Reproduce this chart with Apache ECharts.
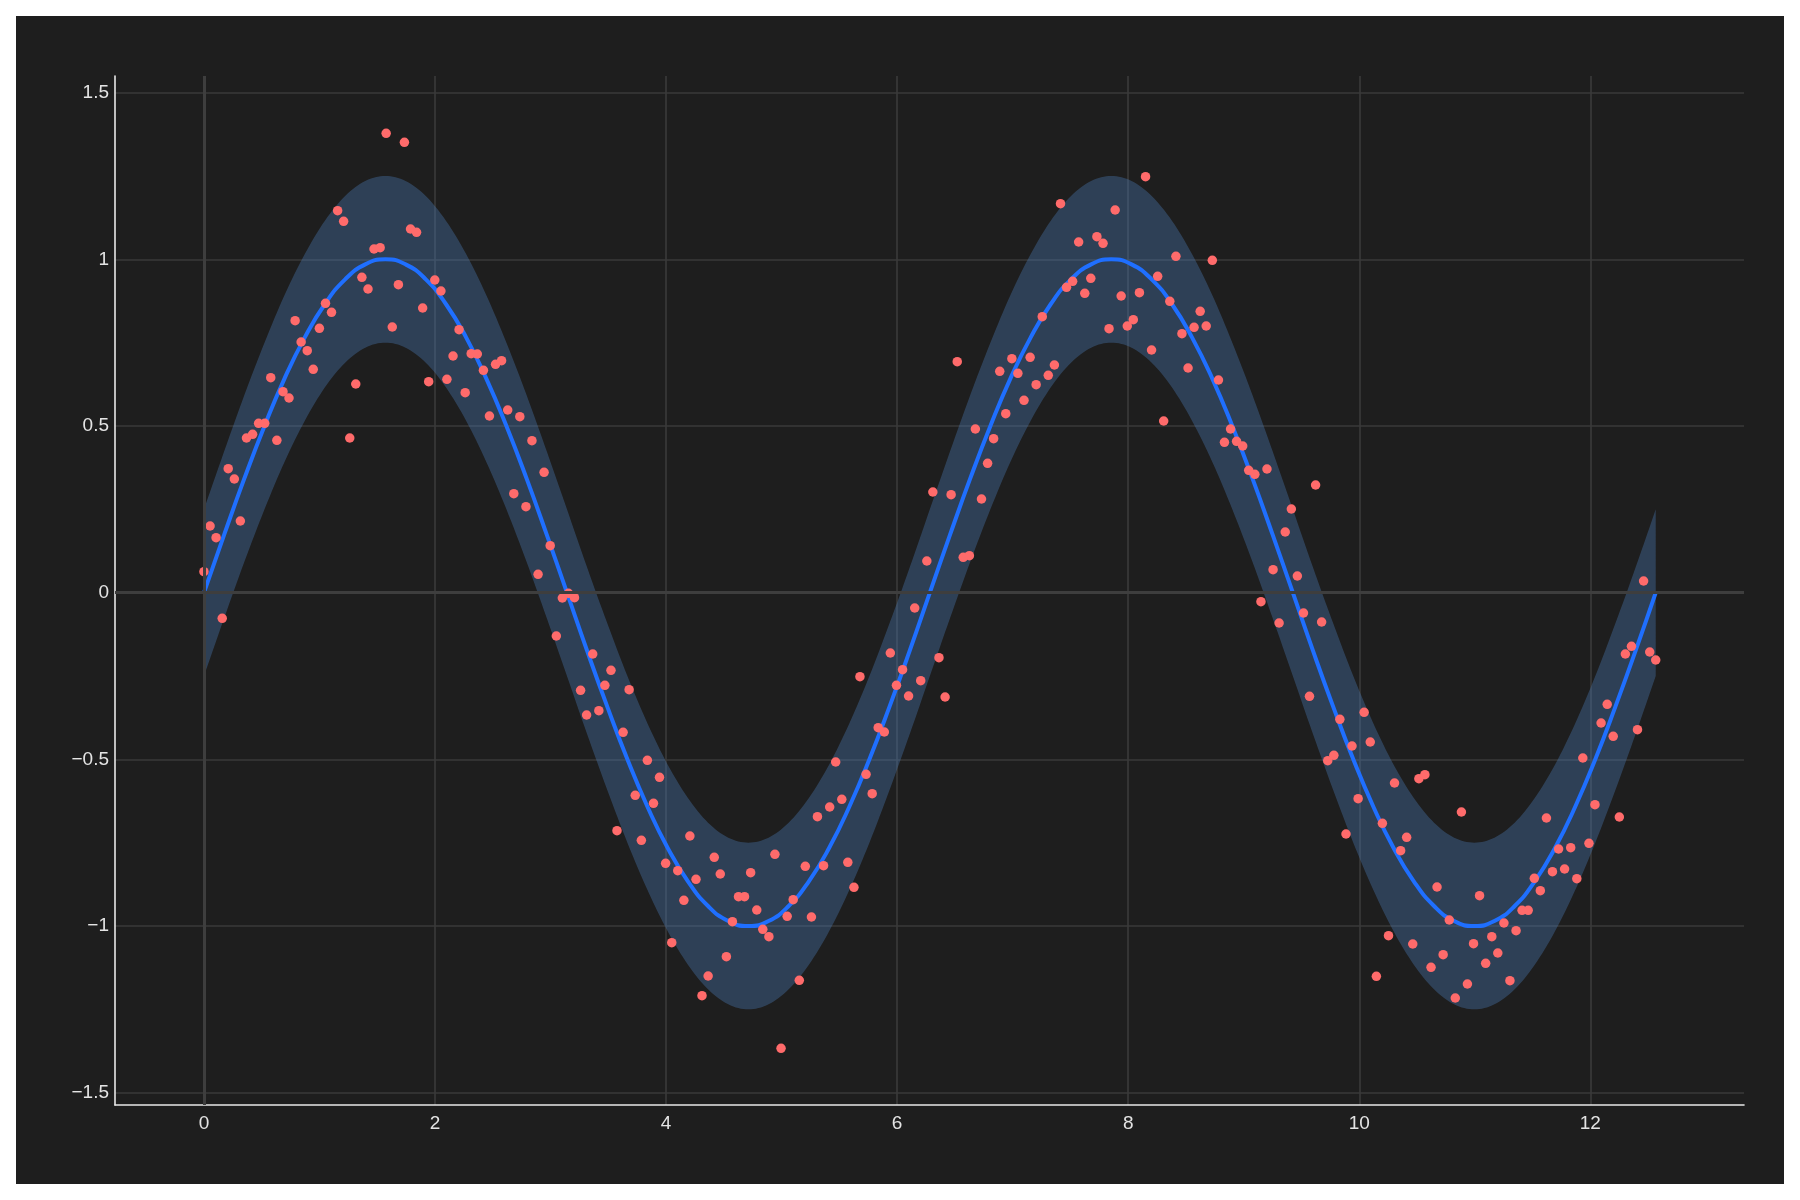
<!DOCTYPE html>
<html>
<head>
<meta charset="utf-8">
<script src="https://cdn.jsdelivr.net/npm/echarts@6/dist/echarts.min.js"></script>
<style>
  html, body { margin: 0; padding: 0; background: #ffffff; width: 1800px; height: 1200px; overflow: hidden; }
  #chart { position: absolute; left: 16px; top: 16px; width: 1768px; height: 1168px; }
</style>
</head>
<body>
<div id="chart"></div>
<script>
const pointsX = [
 0.000,0.053,0.105,0.158,0.210,0.263,0.315,0.368,0.421,0.473,
 0.526,0.578,0.631,0.684,0.736,0.789,0.841,0.894,0.946,0.999,
 1.052,1.104,1.157,1.209,1.262,1.314,1.367,1.420,1.472,1.525,
 1.577,1.630,1.683,1.735,1.788,1.840,1.893,1.945,1.998,2.051,
 2.103,2.156,2.208,2.261,2.313,2.366,2.419,2.471,2.524,2.576,
 2.629,2.682,2.734,2.787,2.839,2.892,2.944,2.997,3.050,3.102,
 3.155,3.207,3.260,3.312,3.365,3.418,3.470,3.523,3.575,3.628,
 3.680,3.733,3.786,3.838,3.891,3.943,3.996,4.049,4.101,4.154,
 4.206,4.259,4.311,4.364,4.417,4.469,4.522,4.574,4.627,4.679,
 4.732,4.785,4.837,4.890,4.942,4.995,5.048,5.100,5.153,5.205,
 5.258,5.310,5.363,5.416,5.468,5.521,5.573,5.626,5.678,5.731,
 5.784,5.836,5.889,5.941,5.994,6.047,6.099,6.152,6.204,6.257,
 6.309,6.362,6.415,6.467,6.520,6.572,6.625,6.677,6.730,6.783,
 6.835,6.888,6.940,6.993,7.045,7.098,7.151,7.203,7.256,7.308,
 7.361,7.414,7.466,7.519,7.571,7.624,7.676,7.729,7.782,7.834,
 7.887,7.939,7.992,8.044,8.097,8.150,8.202,8.255,8.307,8.360,
 8.413,8.465,8.518,8.570,8.623,8.675,8.728,8.781,8.833,8.886,
 8.938,8.991,9.043,9.096,9.149,9.201,9.254,9.306,9.359,9.412,
 9.464,9.517,9.569,9.622,9.674,9.727,9.780,9.832,9.885,9.937,
 9.990,10.042,10.095,10.148,10.200,10.253,10.305,10.358,10.410,10.463,
 10.516,10.568,10.621,10.673,10.726,10.779,10.831,10.884,10.936,10.989,
 11.041,11.094,11.147,11.199,11.252,11.304,11.357,11.409,11.462,11.515,
 11.567,11.620,11.672,11.725,11.777,11.830,11.883,11.935,11.988,12.040,
 12.093,12.146,12.198,12.251,12.303,12.356,12.408,12.461,12.514,12.566
];
const pointsY = [
 0.063,0.200,0.165,-0.077,0.372,0.341,0.215,0.464,0.475,0.508,
 0.508,0.645,0.457,0.603,0.584,0.816,0.752,0.726,0.670,0.793,
 0.868,0.841,1.146,1.114,0.464,0.626,0.946,0.911,1.031,1.035,
 1.378,0.797,0.924,1.351,1.091,1.081,0.854,0.633,0.938,0.905,
 0.640,0.710,0.789,0.600,0.717,0.716,0.667,0.530,0.685,0.696,
 0.548,0.297,0.528,0.258,0.456,0.055,0.361,0.141,-0.130,-0.016,
 -0.002,-0.015,-0.293,-0.367,-0.184,-0.354,-0.278,-0.233,-0.714,-0.419,
 -0.291,-0.608,-0.743,-0.503,-0.632,-0.554,-0.812,-1.050,-0.834,-0.923,
 -0.730,-0.860,-1.209,-1.150,-0.794,-0.844,-1.092,-0.987,-0.912,-0.912,
 -0.840,-0.952,-1.010,-1.032,-0.785,-1.367,-0.971,-0.921,-1.163,-0.821,
 -0.973,-0.672,-0.819,-0.643,-0.508,-0.620,-0.809,-0.884,-0.252,-0.545,
 -0.603,-0.405,-0.418,-0.181,-0.278,-0.231,-0.310,-0.046,-0.264,0.095,
 0.302,-0.195,-0.313,0.294,0.693,0.106,0.111,0.491,0.281,0.388,
 0.462,0.664,0.537,0.702,0.658,0.577,0.706,0.624,0.828,0.652,
 0.683,1.167,0.916,0.934,1.052,0.898,0.943,1.068,1.048,0.792,
 1.148,0.890,0.800,0.819,0.900,1.248,0.728,0.949,0.515,0.874,
 1.009,0.777,0.674,0.796,0.844,0.800,0.997,0.638,0.451,0.491,
 0.454,0.440,0.367,0.355,-0.027,0.371,0.069,-0.091,0.182,0.251,
 0.050,-0.061,-0.311,0.323,-0.088,-0.504,-0.488,-0.380,-0.724,-0.460,
 -0.618,-0.359,-0.448,-1.151,-0.692,-1.029,-0.571,-0.774,-0.734,-1.054,
 -0.558,-0.546,-1.124,-0.883,-1.086,-0.982,-1.216,-0.658,-1.174,-1.053,
 -0.909,-1.112,-1.032,-1.081,-0.991,-1.164,-1.014,-0.953,-0.953,-0.857,
 -0.894,-0.676,-0.837,-0.769,-0.829,-0.765,-0.858,-0.496,-0.752,-0.636,
 -0.391,-0.335,-0.431,-0.673,-0.184,-0.161,-0.411,0.035,-0.178,-0.202
];

// ---- Fitted curve ----
const curveX = [
 0.000,0.175,0.349,0.524,0.698,0.873,1.047,1.222,1.396,1.571,
 1.745,1.920,2.094,2.269,2.443,2.618,2.793,2.967,3.142,3.316,
 3.491,3.665,3.840,4.014,4.189,4.363,4.538,4.712,4.887,5.061,
 5.236,5.411,5.585,5.760,5.934,6.109,6.283,6.458,6.632,6.807,
 6.981,7.156,7.330,7.505,7.679,7.854,8.029,8.203,8.378,8.552,
 8.727,8.901,9.076,9.250,9.425,9.599,9.774,9.948,10.123,10.297,
 10.472,10.647,10.821,10.996,11.170,11.345,11.519,11.694,11.868,12.043,
 12.217,12.392,12.566
];
const curveY = [
 0,0.174,0.342,0.5,0.643,0.766,0.866,0.940,0.985,1,
 0.985,0.940,0.866,0.766,0.643,0.5,0.342,0.174,0,-0.174,
 -0.342,-0.5,-0.643,-0.766,-0.866,-0.940,-0.985,-1,-0.985,-0.940,
 -0.866,-0.766,-0.643,-0.5,-0.342,-0.174,0,0.174,0.342,0.5,
 0.643,0.766,0.866,0.940,0.985,1,0.985,0.940,0.866,0.766,
 0.643,0.5,0.342,0.174,0,-0.174,-0.342,-0.5,-0.643,-0.766,
 -0.866,-0.940,-0.985,-1,-0.985,-0.940,-0.866,-0.766,-0.643,-0.5,
 -0.342,-0.174,0
];
// Half width of the shaded uncertainty band (read: ±0.25)
const bandHalfWidth = 0.25;

// Tick values
const xTicks = [0, 2, 4, 6, 8, 10, 12];
const yTicks = [-1.5, -1, -0.5, 0, 0.5, 1, 1.5];

const scatterData = pointsX.map((x, i) => [x, pointsY[i]]);
const curveData = curveX.map((x, i) => [x, curveY[i]]);

function isTick(list, v) {
  return list.some(t => Math.abs(t - v) < 1e-6);
}

// Catmull-Rom smoothing of screen-space points (rendering only)
function smoothPts(p) {
  const out = [];
  const n = p.length;
  const steps = 8;
  for (let i = 0; i < n - 1; i++) {
    const p0 = p[Math.max(i - 1, 0)], p1 = p[i], p2 = p[i + 1], p3 = p[Math.min(i + 2, n - 1)];
    for (let s = 0; s < steps; s++) {
      const t = s / steps, t2 = t * t, t3 = t2 * t;
      const q = [0, 1].map(k => 0.5 * (2 * p1[k] + (-p0[k] + p2[k]) * t +
        (2 * p0[k] - 5 * p1[k] + 4 * p2[k] - p3[k]) * t2 +
        (-p0[k] + 3 * p1[k] - 3 * p2[k] + p3[k]) * t3));
      out.push(q);
    }
  }
  out.push(p[n - 1]);
  return out;
}

const chart = echarts.init(document.getElementById('chart'));
chart.setOption({
  backgroundColor: '#1e1e1e',
  animation: false,
  grid: { left: 99, top: 60, right: 40, bottom: 79, containLabel: false },
  xAxis: {
    type: 'value',
    min: -0.77,
    max: 13.33,
    splitNumber: 7,
    axisLine: { show: true, onZero: false, lineStyle: { color: '#e8e8e8', width: 1.6 } },
    axisTick: { show: false },
    axisLabel: {
      color: '#e4e4e4', fontSize: 19, margin: 9,
      fontFamily: 'Liberation Sans, Arial, sans-serif',
      formatter: v => isTick(xTicks, v) ? String(Math.round(v)) : ''
    },
    splitLine: { show: true, showMinLine: false, showMaxLine: false,
      lineStyle: { color: '#3a3a3a', width: 1.6 } }
  },
  yAxis: {
    type: 'value',
    min: -1.537,
    max: 1.55,
    splitNumber: 6,
    axisLine: { show: true, onZero: false, lineStyle: { color: '#e8e8e8', width: 1.6 } },
    axisTick: { show: false },
    axisLabel: {
      color: '#e4e4e4', fontSize: 19, margin: 6,
      fontFamily: 'Liberation Sans, Arial, sans-serif',
      formatter: v => isTick(yTicks, v) ? String(Math.round(v * 10) / 10).replace('-', '\u2212') : ''
    },
    splitLine: { show: true, showMinLine: false, showMaxLine: false,
      lineStyle: { color: '#3a3a3a', width: 1.6 } }
  },
  series: [
    {
      name: 'zero',
      type: 'line',
      data: [],
      z: 1,
      silent: true,
      markLine: {
        silent: true,
        symbol: 'none',
        label: { show: false },
        lineStyle: { color: '#3e3e3e', width: 3, type: 'solid' },
        data: [{ xAxis: 0 }, { yAxis: 0 }]
      }
    },
    {
      name: 'band',
      type: 'custom',
      z: 2,
      silent: true,
      data: [[0, 0]],
      renderItem: function (params, api) {
        const up = curveX.map((x, i) => api.coord([x, curveY[i] + bandHalfWidth]));
        const lo = curveX.map((x, i) => api.coord([x, curveY[i] - bandHalfWidth]));
        const pts = smoothPts(up).concat(smoothPts(lo).reverse());
        return {
          type: 'polygon',
          shape: { points: pts },
          style: { fill: 'rgba(75,125,185,0.37)' }
        };
      }
    },
    {
      name: 'fit',
      type: 'line',
      z: 3,
      data: curveData,
      smooth: true,
      showSymbol: false,
      lineStyle: { color: '#1f6fff', width: 4 }
    },
    {
      name: 'data',
      type: 'scatter',
      z: 4,
      data: scatterData,
      symbolSize: 9.5,
      itemStyle: { color: '#ff6b6b', opacity: 1 }
    }
  ]
});
</script>
</body>
</html>
